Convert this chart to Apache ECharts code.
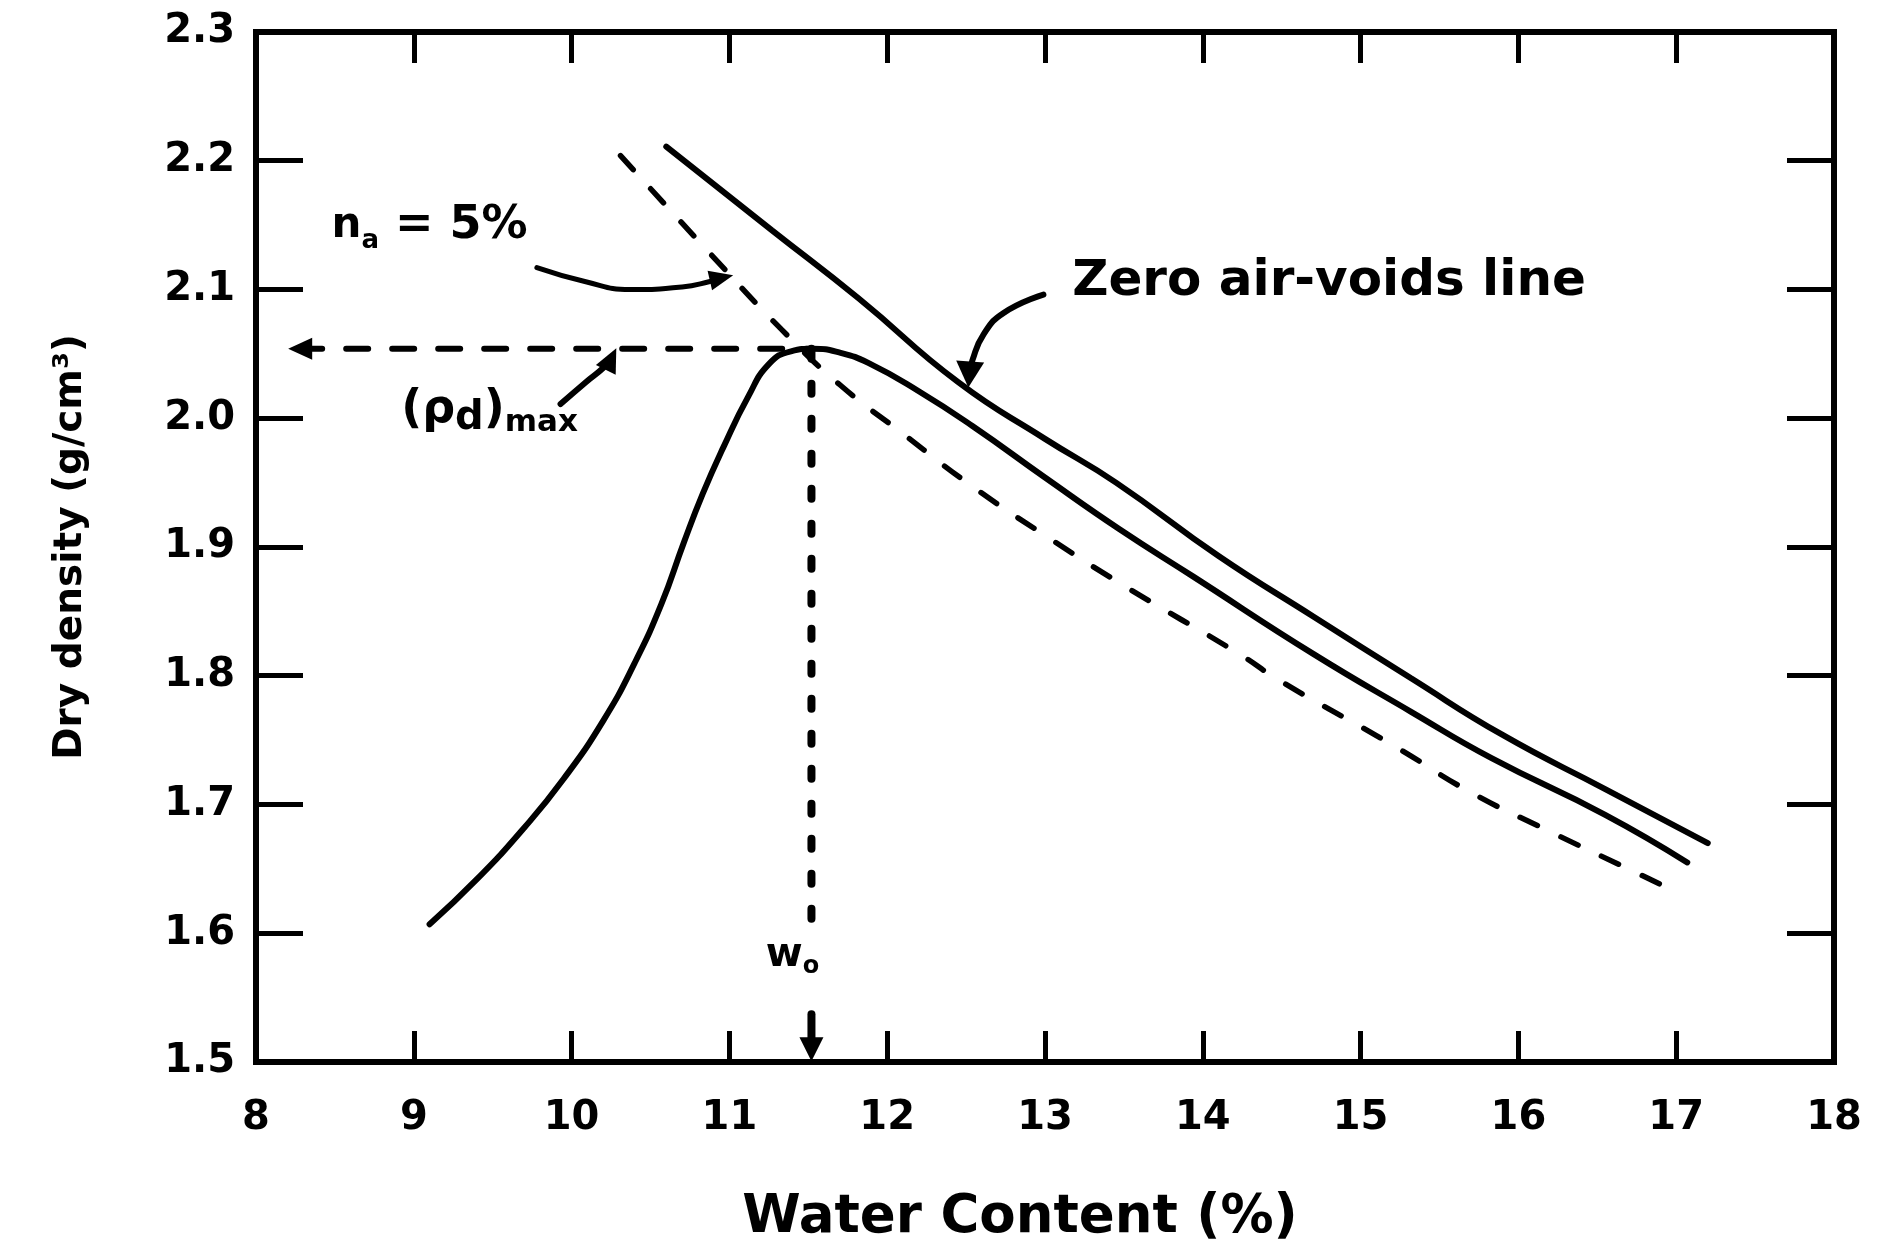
<!DOCTYPE html>
<html>
<head>
<meta charset="utf-8">
<script src="https://cdn.jsdelivr.net/npm/echarts@6/dist/echarts.min.js"></script>
<style>
html,body{margin:0;padding:0;background:#ffffff;}
#chart{width:1886px;height:1250px;}
</style>
</head>
<body>
<div id="chart"></div>
<script>
// ---- axis ranges / ticks ----
const xMin = 8, xMax = 18, xStep = 1;
const yMin = 1.5, yMax = 2.3, yStep = 0.1;

// ---- compaction curve ----
const compactionWater   = [9.1, 9.4, 9.7, 9.95, 10.2, 10.4, 10.57, 10.71, 10.83, 10.96, 11.12, 11.25, 11.39, 11.53, 11.7, 11.88, 12.2, 12.54, 13.0, 13.47, 13.94, 14.7, 15.32, 15.83, 16.55, 17.07];
const compactionDensity = [1.607, 1.642, 1.682, 1.72, 1.765, 1.810, 1.856, 1.903, 1.941, 1.977, 2.017, 2.042, 2.052, 2.054, 2.051, 2.043, 2.021, 1.994, 1.954, 1.914, 1.877, 1.817, 1.772, 1.736, 1.692, 1.655];

// ---- zero air-voids line ----
const zavWater   = [10.6, 11.27, 11.82, 12.45, 13.0, 13.45, 14.1, 14.7, 15.32, 15.9, 16.55, 17.2];
const zavDensity = [2.211, 2.146, 2.093, 2.028, 1.984, 1.950, 1.893, 1.846, 1.798, 1.754, 1.712, 1.670];

// ---- n_a = 5% air-voids line ----
const air5Water   = [10.31, 10.87, 11.33, 11.7, 12.11, 12.54, 13.0, 13.5, 14.23, 14.49, 15.22, 15.69, 16.2, 16.73, 17.0];
const air5Density = [2.204, 2.129, 2.069, 2.026, 1.987, 1.947, 1.909, 1.870, 1.817, 1.796, 1.745, 1.710, 1.679, 1.648, 1.632];

// ---- optimum point ----
const optimumWater = 11.52;
const maxDryDensity = 2.054;

// ---- annotation leader paths (data coordinates) ----
const na5ArrowWater   = [9.78, 10.09, 10.37, 10.70, 10.87, 10.95];
const na5ArrowDensity = [2.117, 2.106, 2.100, 2.102, 2.106, 2.109];
const rhoArrowWater   = [9.93, 10.09, 10.20, 10.25];
const rhoArrowDensity = [2.011, 2.028, 2.039, 2.046];
const zavArrowWater   = [12.99, 12.74, 12.61, 12.54, 12.52];
const zavArrowDensity = [2.096, 2.082, 2.065, 2.045, 2.034];

// ---- annotation texts ----
const annoText = {
  na5: '{n|n}{a|a}{t| = 5%}',
  rho: '{t|(ρ}{d|d}{t|)}{m|max}',
  zav: '{z|Zero air-voids line}',
  wo:  '{w|w}{o|o}'
};
const annoWater   = [9.10, 9.48, 14.80, 11.40];
const annoDensity = [2.149, 2.006, 2.106, 1.583];

const FONT = 'DejaVu Sans';
const zip = (a, b) => a.map((v, i) => [v, b[i]]);

function arrowData(xs, ys, rot, size) {
  const d = zip(xs, ys).map(p => ({ value: p }));
  d[d.length - 1] = { value: d[d.length - 1].value, symbol: 'triangle', symbolRotate: rot, symbolSize: size };
  return d;
}

const chart = echarts.init(document.getElementById('chart'), null, { renderer: 'canvas' });

const tickStyleX = { show: true, inside: true, length: 31, lineStyle: { color: '#000', width: 5 } };
const tickStyleY = { show: true, inside: true, length: 47, lineStyle: { color: '#000', width: 5 } };

const SMOOTH = 0.5;

const option = {
  backgroundColor: '#ffffff',
  animation: false,
  grid: {
    left: 256, right: 52, top: 32, bottom: 182,
    show: true, borderColor: '#000', borderWidth: 6, backgroundColor: 'transparent'
  },
  xAxis: [
    {
      type: 'value', min: xMin, max: xMax, interval: xStep, position: 'bottom',
      axisLine: { show: false }, splitLine: { show: false },
      axisTick: tickStyleX,
      axisLabel: { margin: 37, fontSize: 40, fontWeight: 'bold', fontFamily: FONT, color: '#000' },
      name: 'Water Content (%)', nameLocation: 'middle', nameGap: 130,
      nameTextStyle: { fontSize: 53, fontWeight: 'bold', fontFamily: FONT, color: '#000', padding: [0, 50, 0, 0] }
    },
    {
      type: 'value', min: xMin, max: xMax, interval: xStep, position: 'top',
      axisLine: { show: false }, splitLine: { show: false },
      axisTick: tickStyleX, axisLabel: { show: false }
    }
  ],
  yAxis: [
    {
      type: 'value', min: yMin, max: yMax, interval: yStep, position: 'left',
      axisLine: { show: false }, splitLine: { show: false },
      axisTick: tickStyleY,
      axisLabel: { margin: 21, fontSize: 40, fontWeight: 'bold', fontFamily: FONT, color: '#000',
        formatter: v => v.toFixed(1) },
      name: 'Dry density (g/cm³)', nameLocation: 'middle', nameGap: 166,
      nameTextStyle: { fontSize: 39, fontWeight: 'bold', fontFamily: FONT, color: '#000' }
    },
    {
      type: 'value', min: yMin, max: yMax, interval: yStep, position: 'right',
      axisLine: { show: false }, splitLine: { show: false },
      axisTick: tickStyleY, axisLabel: { show: false }
    }
  ],
  series: [
    {
      name: 'Compaction curve', type: 'line', data: zip(compactionWater, compactionDensity),
      smooth: SMOOTH, symbol: 'none',
      lineStyle: { color: '#000', width: 6, cap: 'round' }, z: 5
    },
    {
      name: 'Zero air-voids line', type: 'line', data: zip(zavWater, zavDensity),
      smooth: SMOOTH, symbol: 'none',
      lineStyle: { color: '#000', width: 6, cap: 'round' }, z: 5
    },
    {
      name: 'na = 5%', type: 'line', data: zip(air5Water, air5Density),
      smooth: SMOOTH, symbol: 'none',
      lineStyle: { color: '#000', width: 5.5, type: [19, 26], cap: 'round' }, z: 4
    },
    {
      name: 'max dry density', type: 'line', symbol: 'none', showSymbol: true,
      data: [
        { value: [8.28, maxDryDensity], symbol: 'triangle', symbolRotate: 90, symbolSize: [22, 24] },
        { value: [optimumWater, maxDryDensity] }
      ],
      itemStyle: { color: '#000' },
      lineStyle: { color: '#000', width: 6, type: [22, 24], cap: 'round' }, z: 3
    },
    {
      name: 'optimum upper', type: 'line', symbol: 'none',
      data: [[optimumWater, maxDryDensity], [optimumWater, 1.60]],
      lineStyle: { color: '#000', width: 8, type: [10, 25], cap: 'round' }, z: 3
    },
    {
      name: 'optimum lower', type: 'line', symbol: 'none', showSymbol: true,
      data: [
        { value: [optimumWater, 1.537] },
        { value: [optimumWater, 1.510], symbol: 'triangle', symbolRotate: 180, symbolSize: [24, 24] }
      ],
      itemStyle: { color: '#000' },
      lineStyle: { color: '#000', width: 8, cap: 'round' }, z: 3
    },
    {
      name: 'na arrow', type: 'line', symbol: 'none', showSymbol: true, smooth: 0.5,
      data: arrowData(na5ArrowWater, na5ArrowDensity, -77, [20, 24]),
      itemStyle: { color: '#000' },
      lineStyle: { color: '#000', width: 5, cap: 'round' }, z: 6
    },
    {
      name: 'rho arrow', type: 'line', symbol: 'none', showSymbol: true, smooth: 0.5,
      data: arrowData(rhoArrowWater, rhoArrowDensity, -26, [22, 24]),
      itemStyle: { color: '#000' },
      lineStyle: { color: '#000', width: 6, cap: 'round' }, z: 6
    },
    {
      name: 'zav arrow', type: 'line', symbol: 'none', showSymbol: true, smooth: 0.5,
      data: arrowData(zavArrowWater, zavArrowDensity, 176, [28, 26]),
      itemStyle: { color: '#000' },
      lineStyle: { color: '#000', width: 6, cap: 'round' }, z: 6
    },
    {
      name: 'labels', type: 'scatter', symbolSize: 1,
      itemStyle: { color: 'transparent', opacity: 1 },
      emphasis: { disabled: true },
      data: [
        { value: [annoWater[0], annoDensity[0]], label: { formatter: annoText.na5 } },
        { value: [annoWater[1], annoDensity[1]], label: { formatter: annoText.rho } },
        { value: [annoWater[2], annoDensity[2]], label: { formatter: annoText.zav } },
        { value: [annoWater[3], annoDensity[3]], label: { formatter: annoText.wo } }
      ],
      label: {
        show: true, position: 'inside', color: '#000', fontFamily: FONT, fontWeight: 'bold',
        rich: {
          n: { fontSize: 42, fontWeight: 'bold', fontFamily: FONT, color: '#000', lineHeight: 56, verticalAlign: 'middle' },
          a: { fontSize: 26, fontWeight: 'bold', fontFamily: FONT, color: '#000', lineHeight: 26, verticalAlign: 'bottom' },
          t: { fontSize: 46, fontWeight: 'bold', fontFamily: FONT, color: '#000', lineHeight: 56, verticalAlign: 'middle' },
          d: { fontSize: 40, fontWeight: 'bold', fontFamily: FONT, color: '#000', lineHeight: 40, verticalAlign: 'bottom' },
          m: { fontSize: 31, fontWeight: 'bold', fontFamily: FONT, color: '#000', lineHeight: 28, verticalAlign: 'bottom' },
          z: { fontSize: 50, fontWeight: 'bold', fontFamily: FONT, color: '#000', lineHeight: 56 },
          w: { fontSize: 40, fontWeight: 'bold', fontFamily: FONT, color: '#000', lineHeight: 48, verticalAlign: 'middle' },
          o: { fontSize: 24, fontWeight: 'bold', fontFamily: FONT, color: '#000', lineHeight: 22, verticalAlign: 'bottom' }
        }
      },
      z: 7
    }
  ]
};

chart.setOption(option);
</script>
</body>
</html>
